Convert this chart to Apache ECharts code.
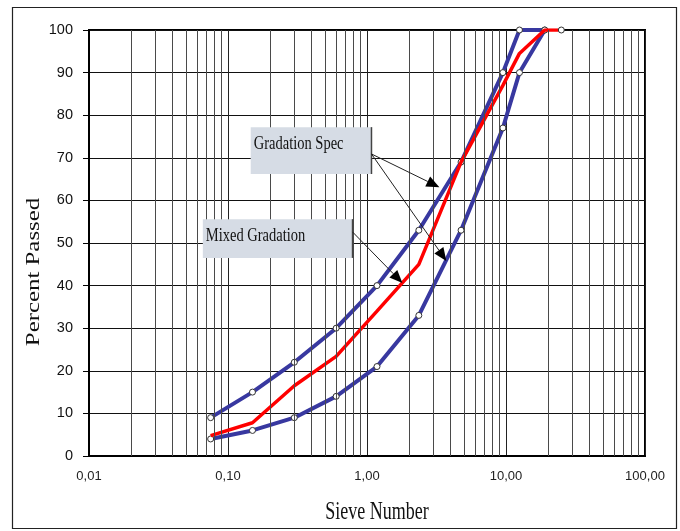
<!DOCTYPE html>
<html>
<head>
<meta charset="utf-8">
<script src="https://cdn.jsdelivr.net/npm/echarts@6/dist/echarts.min.js"></script>
<style>
html,body{margin:0;padding:0;background:#fff;}
#chart{width:680px;height:531px;}
</style>
</head>
<body>
<div id="chart"></div>
<script>
// ---- data ----
const sieveSizes   = [0.075, 0.15, 0.3, 0.6, 1.18, 2.36, 4.75, 9.5, 12.5, 19];
const specUpper    = [9, 15, 22, 30, 40, 53, 69, 90, 100, 100];
const specLower    = [4, 6, 9, 14, 21, 33, 53, 77, 90, 100];
const mixedSizes   = [0.075, 0.15, 0.3, 0.6, 1.18, 2.36, 4.75, 9.5, 12.5, 19, 25];
const mixedPassing = [4.8, 7.8, 16.5, 23.4, 34, 45, 69, 87, 94.5, 100, 100];
const xDecades     = [0.01, 0.1, 1, 10];
const minorSteps   = [2, 3, 4, 5, 6, 7, 8, 9];
const xTickLabels  = ['0,01', '0,10', '1,00', '10,00', '100,00'];
const yTickValues  = [0, 10, 20, 30, 40, 50, 60, 70, 80, 90, 100];

// annotation anchors in data units [x, y]
const specBox   = [[0.1457, 77.2], [1.077, 66.2]];
const mixedBox  = [[0.0659, 55.6], [0.787, 46.5]];
const specArrowStart  = [1.077, 70.9];
const specArrowTips   = [[3.317, 63.1], [3.723, 45.8]];
const mixedArrowStart = [0.787, 52.6];
const mixedArrowTip   = [1.798, 40.6];

const minorGrid = [];
xDecades.forEach(d => minorSteps.forEach(m => minorGrid.push(+(d * m).toPrecision(3))));

const BLUE = '#3838a0';
const RED = '#ff0000';

const chart = echarts.init(document.getElementById('chart'), null, {renderer: 'canvas'});

function xLabel(v) {
  const i = Math.round(Math.log10(v)) + 2;
  return xTickLabels[i] !== undefined ? xTickLabels[i] : '';
}

const option = {
  animation: false,
  backgroundColor: '#fff',
  grid: {left: 89, right: 35, top: 30, bottom: 75, show: true, borderColor: '#000', borderWidth: 2, backgroundColor: 'transparent'},
  xAxis: {
    type: 'log', logBase: 10, min: 0.01, max: 100,
    axisLine: {show: true, lineStyle: {color: '#000', width: 2}},
    axisTick: {show: false},
    axisLabel: {formatter: xLabel, fontFamily: 'Liberation Sans, Arial', fontSize: 13, color: '#222', margin: 14},
    splitLine: {show: true, lineStyle: {color: '#222', width: 1}},
    minorTick: {show: false}, minorSplitLine: {show: false}
  },
  yAxis: {
    type: 'value', min: 0, max: 100, interval: 10,
    axisLine: {show: true, lineStyle: {color: '#000', width: 2}},
    axisTick: {show: true, length: 6, lineStyle: {color: '#000', width: 1}},
    axisLabel: {fontFamily: 'Liberation Sans, Arial', fontSize: 14.5, color: '#111', margin: 16,
      formatter: v => yTickValues.indexOf(v) >= 0 ? String(v) : ''},
    splitLine: {show: true, lineStyle: {color: '#111', width: 1}}
  },
  series: [
    {
      name: 'grid', type: 'line', data: [], silent: true, z: 1,
      markLine: {
        silent: true, symbol: 'none', animation: false,
        label: {show: false},
        lineStyle: {color: '#4a4a4a', width: 1, type: 'solid'},
        emphasis: {disabled: true},
        data: minorGrid.map(v => ({xAxis: v}))
      }
    },
    {
      name: 'Spec upper', type: 'line', z: 3,
      data: sieveSizes.map((s, i) => [s, specUpper[i]]),
      lineStyle: {color: BLUE, width: 4},
      symbol: 'circle', symbolSize: 6, showSymbol: true,
      itemStyle: {color: '#fff', borderColor: '#333', borderWidth: 1}
    },
    {
      name: 'Spec lower', type: 'line', z: 3,
      data: sieveSizes.map((s, i) => [s, specLower[i]]),
      lineStyle: {color: BLUE, width: 4},
      symbol: 'circle', symbolSize: 6, showSymbol: true,
      itemStyle: {color: '#fff', borderColor: '#333', borderWidth: 1}
    },
    {
      name: 'Mixed Gradation', type: 'line', z: 4,
      data: mixedSizes.map((s, i) => ({
        value: [s, mixedPassing[i]],
        symbol: i === mixedSizes.length - 1 ? 'circle' : 'none'
      })),
      lineStyle: {color: RED, width: 3.5},
      symbol: 'circle', symbolSize: 6, showSymbol: true,
      itemStyle: {color: '#fff', borderColor: '#333', borderWidth: 1}
    }
  ]
};
chart.setOption(option);

function px(v) { return chart.convertToPixel({xAxisIndex: 0, yAxisIndex: 0}, v); }

function arrow(start, tip) {
  const a = px(start), b = px(tip);
  const dx = b[0] - a[0], dy = b[1] - a[1];
  const len = Math.sqrt(dx * dx + dy * dy);
  const ux = dx / len, uy = dy / len;
  const hl = 13, hw = 5.5;
  const bx = b[0] - ux * hl, by = b[1] - uy * hl;
  return [
    {type: 'line', z: 10, silent: true, shape: {x1: a[0], y1: a[1], x2: bx, y2: by}, style: {stroke: '#222', lineWidth: 1}},
    {type: 'polygon', z: 10, silent: true, shape: {points: [[b[0], b[1]], [bx - uy * hw, by + ux * hw], [bx + uy * hw, by - ux * hw]]}, style: {fill: '#000'}}
  ];
}

function box(corners, label) {
  const p1 = px(corners[0]), p2 = px(corners[1]);
  return [
    {type: 'rect', z: 9, silent: true, shape: {x: p1[0], y: p1[1], width: p2[0] - p1[0], height: p2[1] - p1[1]}, style: {fill: '#d6dce5'}},
    {type: 'line', z: 9, silent: true, shape: {x1: p2[0], y1: p1[1], x2: p2[0], y2: p2[1]}, style: {stroke: '#444', lineWidth: 1.5}},
    {type: 'text', z: 11, silent: true, x: p1[0] + 3, y: p1[1] + 17, scaleY: 1.35,
      style: {text: label, fontFamily: 'Liberation Serif', fontSize: 14.5, fill: '#111', align: 'left', verticalAlign: 'middle'}}
  ];
}

const graphics = [
  {type: 'rect', silent: true, shape: {x: 12.5, y: 7.5, width: 664, height: 521}, style: {fill: 'none', stroke: '#222', lineWidth: 1.2}},
  {type: 'text', silent: true, x: 34, y: 272, rotation: Math.PI / 2, scaleX: 1.38,
    style: {text: 'Percent Passed', fontFamily: 'Liberation Serif', fontSize: 18, fill: '#111', align: 'center', verticalAlign: 'middle'}},
  {type: 'text', silent: true, x: 377, y: 513, scaleY: 1.35,
    style: {text: 'Sieve Number', fontFamily: 'Liberation Serif', fontSize: 18, fill: '#111', align: 'center', verticalAlign: 'middle'}}
]
  .concat(box(specBox, 'Gradation Spec'))
  .concat(box(mixedBox, 'Mixed Gradation'))
  .concat(arrow(specArrowStart, specArrowTips[0]))
  .concat(arrow(specArrowStart, specArrowTips[1]))
  .concat(arrow(mixedArrowStart, mixedArrowTip));

chart.setOption({graphic: graphics});
</script>
</body>
</html>
